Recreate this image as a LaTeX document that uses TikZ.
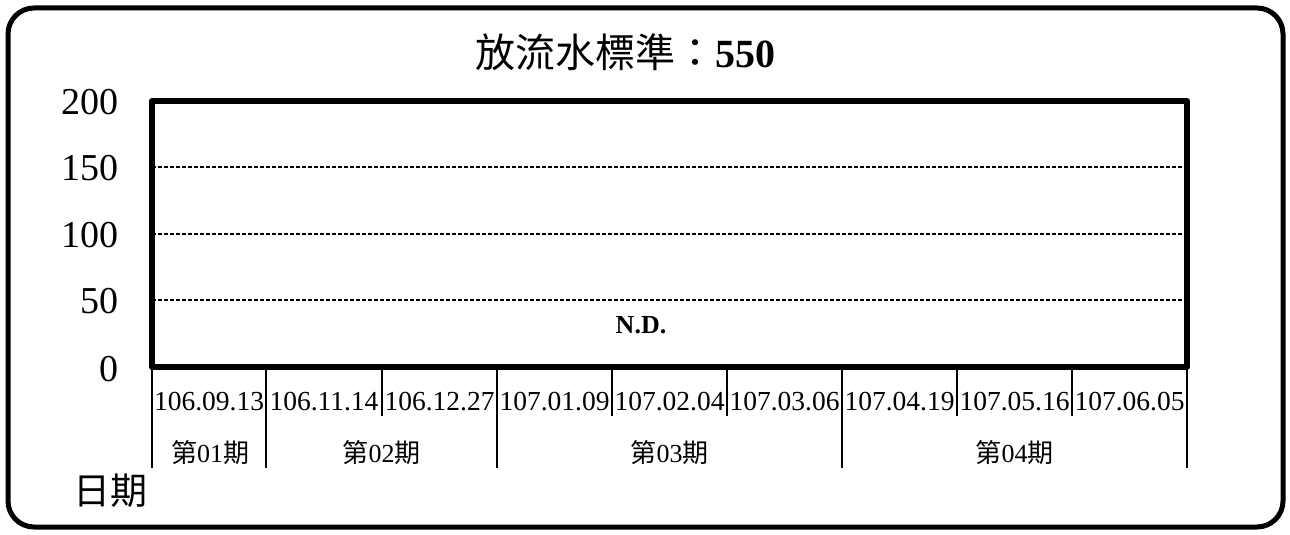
\documentclass[tikz,border=0pt]{standalone}
\usepackage{fontspec}
\setmainfont{Liberation Serif}
\newfontfamily\cjk{Noto Sans CJK TC}
\begin{document}
\begin{tikzpicture}[x=1pt,y=-1pt,
  ylab/.style={anchor=east,font=\fontsize{38}{38}\selectfont,inner sep=0pt},
  datelab/.style={font=\fontsize{27.5}{27.5}\selectfont,inner sep=0pt},
  perlab/.style={font=\fontsize{26}{26}\selectfont,inner sep=0pt},
  grid/.style={line width=1.1pt,dash pattern=on 4pt off 2pt},
  tick/.style={line width=1.3pt}]
\useasboundingbox (0,0) rectangle (1290,535);
\draw[line width=5pt,rounded corners=26pt] (8,8) rectangle (1283,527);
% title
\node[inner sep=0pt] (title) at (625,52) {\fontsize{40}{40}\selectfont{\cjk 放流水標準：}\textbf{550}};
% grid
\foreach \yy in {167,234,300} \draw[grid] (152,\yy) -- (1187,\yy);
% frame
\draw[line width=6pt,line join=round] (152,101) rectangle (1187,367);
% y labels
\node[ylab] (y200) at (119,102) {200};
\node[ylab] (y150) at (119,168) {150};
\node[ylab] (y100) at (119,235) {100};
\node[ylab] (y50) at (119,301) {50};
\node[ylab] (y0) at (119,369) {0};
% ticks
\foreach \xx in {382,612,727,957,1072} \draw[tick] (\xx,364) -- (\xx,416);
\foreach \xx in {152,266,497,842,1187} \draw[tick] (\xx,364) -- (\xx,468);
% dates
\node[datelab] (d1) at (209,402) {106.09.13};
\node[datelab] (d2) at (324,402) {106.11.14};
\node[datelab] (d3) at (439.5,402) {106.12.27};
\node[datelab] (d4) at (554.5,402) {107.01.09};
\node[datelab] (d5) at (669.5,402) {107.02.04};
\node[datelab] (d6) at (784.5,402) {107.03.06};
\node[datelab] (d7) at (899.5,402) {107.04.19};
\node[datelab] (d8) at (1014.5,402) {107.05.16};
\node[datelab] (d9) at (1129.5,402) {107.06.05};
% periods
\node[perlab] (p1) at (210,453) {{\cjk 第}01{\cjk 期}};
\node[perlab] (p2) at (381.5,453) {{\cjk 第}02{\cjk 期}};
\node[perlab] (p3) at (669.5,453) {{\cjk 第}03{\cjk 期}};
\node[perlab] (p4) at (1014.5,453) {{\cjk 第}04{\cjk 期}};
% axis label
\node[inner sep=0pt,font=\fontsize{37}{37}\selectfont\cjk] (xlab) at (110,491) {日期};
% N.D.
\node[inner sep=0pt,font=\fontsize{26}{26}\selectfont\bfseries] (nd) at (641,325) {N.D.};
\end{tikzpicture}
\end{document}
